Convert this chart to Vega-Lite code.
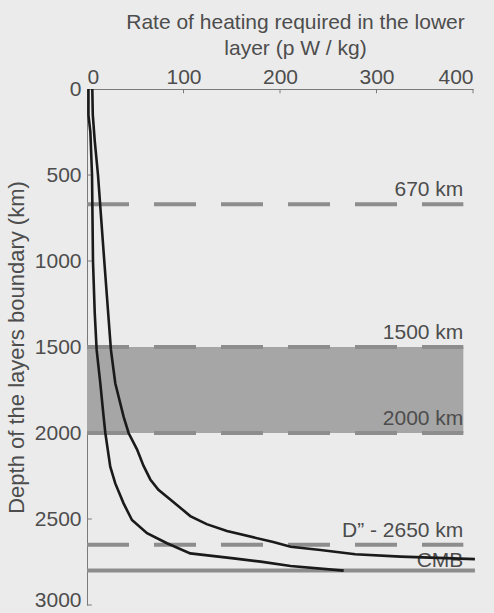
{
  "$schema": "https://vega.github.io/schema/vega-lite/v6.json",
  "width": 386,
  "height": 516,
  "autosize": {"type": "none"},
  "padding": {"left": 87, "top": 89, "right": 21, "bottom": 8},
  "background": "#ebebeb",
  "config": {
    "view": {"stroke": null},
    "font": "Liberation Sans",
    "axis": {
      "grid": false,
      "ticks": false,
      "domainColor": "#7a7a7a",
      "labelColor": "#4d4d4d",
      "titleColor": "#4d4d4d",
      "labelFontSize": 21,
      "titleFontSize": 21,
      "titleFontWeight": "normal",
      "labelFont": "Liberation Sans",
      "titleFont": "Liberation Sans"
    }
  },
  "datasets": {
    "curves": [
      {"series": "A", "depth": 0, "rate": 1.5},
      {"series": "A", "depth": 150, "rate": 1.5},
      {"series": "A", "depth": 250, "rate": 3.5},
      {"series": "A", "depth": 500, "rate": 5.2},
      {"series": "A", "depth": 1000, "rate": 6.2},
      {"series": "A", "depth": 1300, "rate": 8},
      {"series": "A", "depth": 1517, "rate": 10},
      {"series": "A", "depth": 1711, "rate": 13.8},
      {"series": "A", "depth": 1905, "rate": 17.2},
      {"series": "A", "depth": 2000, "rate": 19},
      {"series": "A", "depth": 2196, "rate": 24.1},
      {"series": "A", "depth": 2293, "rate": 29.3},
      {"series": "A", "depth": 2409, "rate": 37.9},
      {"series": "A", "depth": 2506, "rate": 46.6},
      {"series": "A", "depth": 2583, "rate": 62.2},
      {"series": "A", "depth": 2641, "rate": 82.9},
      {"series": "A", "depth": 2700, "rate": 107},
      {"series": "A", "depth": 2729, "rate": 152},
      {"series": "A", "depth": 2748, "rate": 180},
      {"series": "A", "depth": 2773, "rate": 211},
      {"series": "A", "depth": 2800, "rate": 266},
      {"series": "B", "depth": 0, "rate": 5.5},
      {"series": "B", "depth": 150, "rate": 6},
      {"series": "B", "depth": 300, "rate": 8},
      {"series": "B", "depth": 500, "rate": 11.4},
      {"series": "B", "depth": 1000, "rate": 17.9},
      {"series": "B", "depth": 1517, "rate": 24.8},
      {"series": "B", "depth": 1711, "rate": 29.3},
      {"series": "B", "depth": 1905, "rate": 37.9},
      {"series": "B", "depth": 2000, "rate": 43.1},
      {"series": "B", "depth": 2095, "rate": 51.8},
      {"series": "B", "depth": 2190, "rate": 58.5},
      {"series": "B", "depth": 2270, "rate": 65.6},
      {"series": "B", "depth": 2330, "rate": 74},
      {"series": "B", "depth": 2386, "rate": 86.3},
      {"series": "B", "depth": 2483, "rate": 107},
      {"series": "B", "depth": 2530, "rate": 124},
      {"series": "B", "depth": 2570, "rate": 145},
      {"series": "B", "depth": 2634, "rate": 193},
      {"series": "B", "depth": 2661, "rate": 211},
      {"series": "B", "depth": 2680, "rate": 242},
      {"series": "B", "depth": 2705, "rate": 278},
      {"series": "B", "depth": 2719, "rate": 325},
      {"series": "B", "depth": 2733, "rate": 402}
    ],
    "levels": [
      {"depth": 670, "label": "670 km"},
      {"depth": 1500, "label": "1500 km"},
      {"depth": 2000, "label": "2000 km"},
      {"depth": 2650, "label": "D\u201d - 2650 km"}
    ],
    "band": [{"top": 1500, "bottom": 2000}],
    "cmb": [{"depth": 2800, "label": "CMB"}],
    "xticks": [{"rate": 100}, {"rate": 200}, {"rate": 300}, {"rate": 400}],
    "yticks": [{"depth": 500}, {"depth": 1000}, {"depth": 1500}, {"depth": 2000}, {"depth": 2500}, {"depth": 3000}]
  },
  "layer": [
    {
      "data": {"name": "curves"},
      "mark": {"type": "line", "color": "#1a1a1a", "strokeWidth": 2.6, "opacity": 0},
      "encoding": {
        "x": {
          "field": "rate",
          "type": "quantitative",
          "scale": {"domain": [0, 400], "nice": false},
          "axis": {
            "orient": "top",
            "values": [0, 100, 200, 300, 400],
            "format": "d",
            "title": ["Rate of heating required in the lower", "layer (p W / kg)"],
            "titleLineHeight": 26,
            "titleX": 208,
            "titlePadding": 8,
            "labelPadding": 2
          }
        },
        "y": {
          "field": "depth",
          "type": "quantitative",
          "scale": {"domain": [0, 3000], "reverse": true, "nice": false},
          "axis": {
            "orient": "left",
            "values": [0, 500, 1000, 1500, 2000, 2500, 3000],
            "format": "d",
            "title": "Depth of the layers boundary (km)",
            "titleFontSize": 22,
            "titlePadding": 6,
            "labelPadding": 6,
            "labelOffset": {"condition": {"test": "datum.value == 3000", "value": -5}, "value": 0}
          }
        },
        "detail": {"field": "series"},
        "order": {"field": "depth"}
      }
    },
    {
      "data": {"name": "band"},
      "mark": {"type": "rect", "color": "#a6a6a6"},
      "encoding": {
        "x": {"datum": 0, "type": "quantitative"},
        "x2": {"datum": 390},
        "y": {"field": "top", "type": "quantitative"},
        "y2": {"field": "bottom"}
      }
    },
    {
      "data": {"name": "xticks"},
      "mark": {"type": "rule", "color": "#7a7a7a", "strokeWidth": 1},
      "encoding": {
        "x": {"field": "rate", "type": "quantitative"},
        "y": {"datum": 0, "type": "quantitative"},
        "y2": {"datum": 25}
      }
    },
    {
      "data": {"name": "yticks"},
      "mark": {"type": "rule", "color": "#7a7a7a", "strokeWidth": 1},
      "encoding": {
        "y": {"field": "depth", "type": "quantitative"},
        "x": {"datum": 0, "type": "quantitative"},
        "x2": {"datum": 5}
      }
    },
    {
      "data": {"name": "levels"},
      "mark": {"type": "rule", "color": "#8d8d8d", "strokeWidth": 4, "strokeDash": [42, 25], "strokeCap": "butt"},
      "encoding": {
        "x": {"datum": 0, "type": "quantitative"},
        "x2": {"datum": 390},
        "y": {"field": "depth", "type": "quantitative"}
      }
    },
    {
      "data": {"name": "cmb"},
      "mark": {"type": "rule", "color": "#8d8d8d", "strokeWidth": 4, "strokeCap": "butt"},
      "encoding": {
        "x": {"datum": 0, "type": "quantitative"},
        "x2": {"datum": 402},
        "y": {"field": "depth", "type": "quantitative"}
      }
    },
    {
      "data": {"name": "levels"},
      "mark": {"type": "text", "align": "right", "baseline": "alphabetic", "dy": -8, "fontSize": 21, "color": "#4d4d4d", "font": "Liberation Sans"},
      "encoding": {
        "x": {"datum": 390, "type": "quantitative"},
        "y": {"field": "depth", "type": "quantitative"},
        "text": {"field": "label"}
      }
    },
    {
      "data": {"name": "cmb"},
      "mark": {"type": "text", "align": "right", "baseline": "alphabetic", "dy": -4, "fontSize": 21, "color": "#4d4d4d", "font": "Liberation Sans"},
      "encoding": {
        "x": {"datum": 390, "type": "quantitative"},
        "y": {"field": "depth", "type": "quantitative"},
        "text": {"field": "label"}
      }
    },
    {
      "data": {"name": "curves"},
      "mark": {"type": "line", "color": "#1a1a1a", "strokeWidth": 2.6},
      "encoding": {
        "x": {"field": "rate", "type": "quantitative"},
        "y": {"field": "depth", "type": "quantitative"},
        "detail": {"field": "series"},
        "order": {"field": "depth"}
      }
    }
  ]
}
